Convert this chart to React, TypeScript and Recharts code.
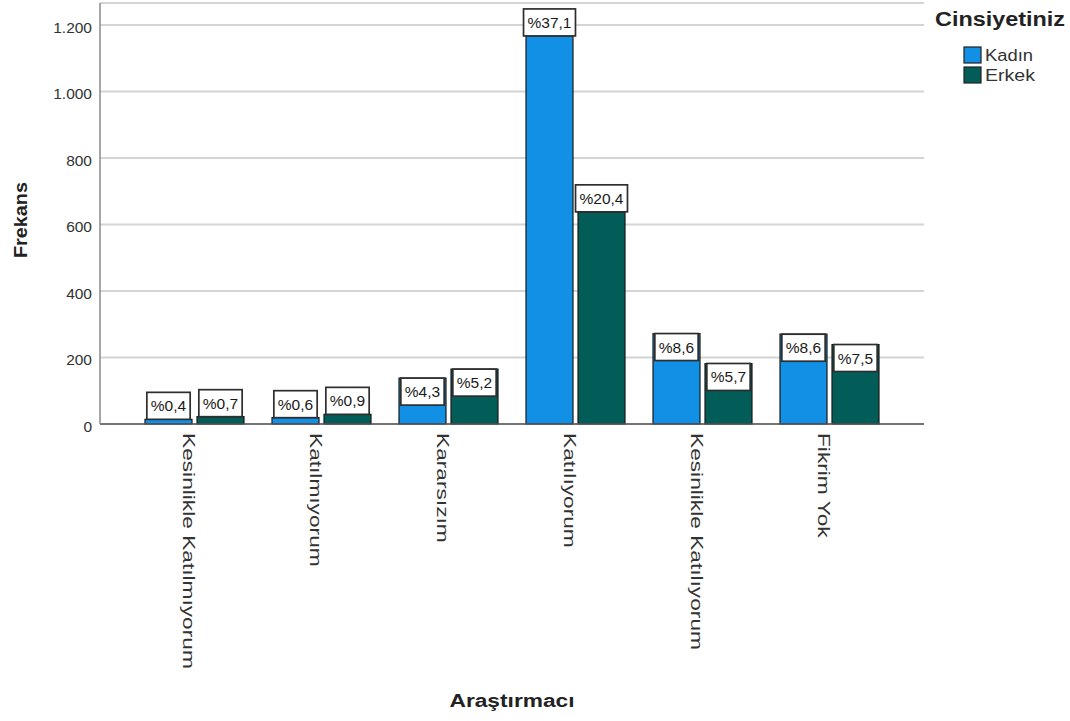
import {
  BarChart,
  Bar,
  XAxis,
  YAxis,
  CartesianGrid,
  Legend,
  LabelList,
} from "recharts";

const categories = [
  "Kesinlikle Katılmıyorum",
  "Katılmıyorum",
  "Kararsızım",
  "Katılıyorum",
  "Kesinlikle Katılıyorum",
  "Fikrim Yok",
];

const kadin = [14, 19, 138, 1167, 272, 270];
const erkek = [22, 29, 165, 638, 182, 239];

const kadinPct = ["%0,4", "%0,6", "%4,3", "%37,1", "%8,6", "%8,6"];
const erkekPct = ["%0,7", "%0,9", "%5,2", "%20,4", "%5,7", "%7,5"];

const yTicks = [0, 200, 400, 600, 800, 1000, 1200];
const seriesOrder = ["Kadın", "Erkek"];

const BLUE = "#1190e6";
const TEAL = "#025c58";
const FONT = "Arial, 'Liberation Sans', sans-serif";

const data = categories.map((name, i) => ({
  name,
  kadin: kadin[i],
  erkek: erkek[i],
  kadinPct: kadinPct[i],
  erkekPct: erkekPct[i],
}));

// rough Arial widths, for sizing the label boxes
const charW: Record<string, number> = { "%": 0.889, ",": 0.278 };
const textWidth = (s: string, size: number) =>
  s.split("").reduce((w, c) => w + (charW[c] ?? 0.556), 0) * size;

const PctBox = (props: any) => {
  const { x, y, width, height, value } = props;
  const fs = 15.5;
  const bw = textWidth(String(value), fs) + 8;
  const bh = 27;
  // SPSS puts the box inside the bar top when it fits, above it otherwise
  const inside = height >= bh && height < 150;
  const top = inside ? y : y - bh;
  const cx = x + width / 2;
  return (
    <g>
      <rect
        x={cx - bw / 2}
        y={top}
        width={bw}
        height={bh}
        fill="#fff"
        stroke="#2e2e2e"
        strokeWidth={1.7}
      />
      <text
        x={cx}
        y={top + bh - 8}
        textAnchor="middle"
        fontFamily={FONT}
        fontSize={15.5}
        fill="#1a1a1a"
      >
        {value}
      </text>
    </g>
  );
};

const XTick = (props: any) => {
  const { x, payload } = props;
  return (
    <text
      transform={`translate(${x - 12}, 433) rotate(90) scale(1.42, 1)`}
      fontFamily={FONT}
      fontSize={16}
      fill="#333"
    >
      {payload.value}
    </text>
  );
};

const YTick = (props: any) => {
  const { x, y, payload } = props;
  return (
    <text
      x={x}
      y={y + 8}
      textAnchor="end"
      fontFamily={FONT}
      fontSize={15.5}
      fill="#333"
    >
      {payload.value.toLocaleString("de-DE")}
    </text>
  );
};

const LegendBox = ({ payload }: any) => {
  const items = [...(payload || [])].sort(
    (a: any, b: any) => seriesOrder.indexOf(a.value) - seriesOrder.indexOf(b.value)
  );
  return (
    <svg width={150} height={95}>
      <text
        x={15}
        y={26}
        fontFamily={FONT}
        fontWeight="bold"
        fontSize={19.5}
        fill="#222"
        textLength={130}
        lengthAdjust="spacingAndGlyphs"
      >
        Cinsiyetiniz
      </text>
      {items.map((p: any, i: number) => (
        <g key={p.value}>
          <rect
            x={44}
            y={47 + i * 20}
            width={17}
            height={16}
            fill={p.color}
            stroke="#222"
            strokeWidth={1.2}
          />
          <text
            x={65}
            y={61 + i * 20}
            fontFamily={FONT}
            fontSize={16}
            fill="#333"
            textLength={i === 0 ? 48 : 50}
            lengthAdjust="spacingAndGlyphs"
          >
            {p.value}
          </text>
        </g>
      ))}
    </svg>
  );
};

export default function App() {
  return (
    <div style={{ position: "relative", width: 1070, height: 721 }}>
      <style>{"body{margin:0;background:#fff}"}</style>
      <BarChart
        width={1070}
        height={721}
        data={data}
        margin={{ top: 3, right: 146, left: 0, bottom: 0 }}
        barSize={47}
        barGap={5}
      >
        <CartesianGrid
          vertical={false}
          stroke="#d4d4d4"
          strokeWidth={2}
        />
        <XAxis
          dataKey="name"
          height={297}
          interval={0}
          padding={{ left: 31, right: 31 }}
          axisLine={{ stroke: "#555", strokeWidth: 1.5 }}
          tickLine={false}
          tick={<XTick />}
        />
        <YAxis
          width={100}
          domain={[0, 1266]}
          ticks={yTicks}
          axisLine={{ stroke: "#8a8a8a", strokeWidth: 1.5 }}
          tickLine={false}
          tick={<YTick />}
        />
        <Legend
          layout="horizontal"
          verticalAlign="middle"
          content={<LegendBox />}
          wrapperStyle={{ top: 0, left: 920, width: 150, height: 95 }}
        />
        <Bar
          dataKey="kadin"
          name="Kadın"
          fill={BLUE}
          stroke="#1a1a1a"
          strokeWidth={1.2}
          isAnimationActive={false}
        >
          <LabelList dataKey="kadinPct" content={<PctBox />} />
        </Bar>
        <Bar
          dataKey="erkek"
          name="Erkek"
          fill={TEAL}
          stroke="#1a1a1a"
          strokeWidth={1.2}
          isAnimationActive={false}
        >
          <LabelList dataKey="erkekPct" content={<PctBox />} />
        </Bar>
      </BarChart>
      <svg
        width={1070}
        height={721}
        style={{ position: "absolute", left: 0, top: 0, pointerEvents: "none" }}
      >
        <text
          transform="translate(27, 220) rotate(-90)"
          textAnchor="middle"
          fontFamily={FONT}
          fontWeight="bold"
          fontSize={18}
          fill="#222"
          textLength={76}
          lengthAdjust="spacingAndGlyphs"
        >
          Frekans
        </text>
        <text
          x={512}
          y={707}
          textAnchor="middle"
          fontFamily={FONT}
          fontWeight="bold"
          fontSize={18}
          fill="#222"
          textLength={125}
          lengthAdjust="spacingAndGlyphs"
        >
          Araştırmacı
        </text>
      </svg>
    </div>
  );
}
